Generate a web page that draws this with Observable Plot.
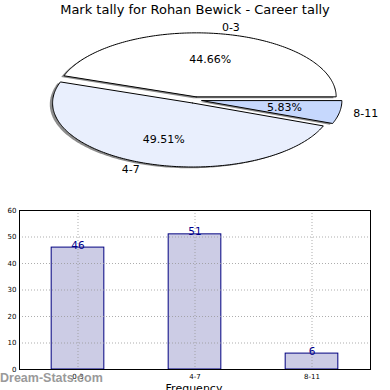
<!DOCTYPE html>
<html>
<head>
<meta charset="utf-8">
<script src="https://cdn.jsdelivr.net/npm/d3@7"></script>
<script src="https://cdn.jsdelivr.net/npm/@observablehq/plot@0.6"></script>
<style>
  html, body { margin: 0; padding: 0; background: #fff; overflow: hidden; }
  #wrap { position: relative; width: 390px; height: 390px; overflow: hidden; font-family: "DejaVu Sans", sans-serif; }
  #wrap svg { position: absolute; left: 0; }
  .txt { position: absolute; white-space: nowrap; }
</style>
</head>
<body>
<div id="wrap"></div>
<script>
// ---- data ----
const title = "Mark tally for Rohan Bewick - Career tally";
const categories = ["0-3", "4-7", "8-11"];
const counts = [46, 51, 6];
const explode = [0.05, 0.05, 0.05];
const yTicks = [0, 10, 20, 30, 40, 50, 60];
const xLabel = "Frequency";
const watermark = "Dream-Stats.com";

// ---- styles ----
const pieColors = ["#ffffff", "#e9effd", "#c6d8fd"];
const barFill = "#ccccE5";
const barStroke = "#000080";
const valueColor = "#00008b";
const font = "DejaVu Sans";

const wrap = document.getElementById("wrap");

// ---- pie geometry (derived from data) ----
const total = d3.sum(counts);
let acc = 0;
const slices = categories.map((cat, i) => {
  const a0 = acc / total * 360;
  acc += counts[i];
  const a1 = acc / total * 360;
  const mid = (a0 + a1) / 2 * Math.PI / 180;
  return {
    cat, i, a0, a1, mid,
    ox: explode[i] * Math.cos(mid),
    oy: explode[i] * Math.sin(mid),
    pct: counts[i] / total * 100
  };
});
function slicePoly(s, dx = 0, dy = 0) {
  const cx = s.ox + dx, cy = s.oy + dy;
  const pts = [{x: cx, y: cy}];
  const n = Math.max(4, Math.ceil(s.a1 - s.a0));
  for (let k = 0; k <= n; k++) {
    const a = (s.a0 + (s.a1 - s.a0) * k / n) * Math.PI / 180;
    pts.push({x: cx + Math.cos(a), y: cy + Math.sin(a)});
  }
  pts.push({x: cx, y: cy});
  return pts;
}

const pcx = 194.5, pcy = 99.5, prx = 140, pry = 64;
const pie = Plot.plot({
  width: 390, height: 190,
  style: {background: "transparent", fontFamily: font},
  x: {domain: [-1, 1], range: [pcx - prx, pcx + prx], axis: null},
  y: {domain: [-1, 1], range: [pcy + pry, pcy - pry], axis: null},
  marks: [
    ...slices.map(s => Plot.line(slicePoly(s, -0.02, -0.02), {x: "x", y: "y", fill: "#000", fillOpacity: 0.45, stroke: "none"})),
    ...slices.map(s => Plot.line(slicePoly(s), {x: "x", y: "y", fill: pieColors[s.i], stroke: "#000", strokeWidth: 1, strokeLinejoin: "miter"})),
    Plot.text(slices, {
      x: s => s.ox + 0.6 * Math.cos(s.mid), y: s => s.oy + 0.6 * Math.sin(s.mid),
      text: s => s.pct.toFixed(2) + "%", fontSize: 11, fill: "#000"
    }),
    Plot.text(slices.filter(s => Math.cos(s.mid) >= 0), {
      x: s => s.ox + 1.1 * Math.cos(s.mid), y: s => s.oy + 1.1 * Math.sin(s.mid),
      text: "cat", textAnchor: "start", fontSize: 11, fill: "#000"
    }),
    Plot.text(slices.filter(s => Math.cos(s.mid) < 0), {
      x: s => s.ox + 1.1 * Math.cos(s.mid), y: s => s.oy + 1.1 * Math.sin(s.mid),
      text: "cat", textAnchor: "end", fontSize: 11, fill: "#000"
    })
  ]
});
pie.style.top = "0px";
wrap.appendChild(pie);

// ---- bar chart ----
const bars = categories.map((cat, i) => ({cat, i, count: counts[i]}));
const bar = Plot.plot({
  width: 390, height: 190,
  marginTop: 10, marginBottom: 21, marginLeft: 19, marginRight: 20,
  style: {background: "transparent", fontFamily: font},
  x: {domain: [-0.5, 2.5]},
  y: {domain: [0, 60]},
  marks: [
    Plot.rectY(bars, {x1: d => d.i - 0.225, x2: d => d.i + 0.225, y: "count", fill: barFill, stroke: barStroke, strokeWidth: 1}),
    Plot.gridY(yTicks, {stroke: "#999", strokeOpacity: 0.8, strokeDasharray: "1,2"}),
    Plot.gridX(bars.map(d => d.i), {stroke: "#999", strokeOpacity: 0.8, strokeDasharray: "1,2"}),
    Plot.frame({stroke: "#000", strokeWidth: 1}),
    Plot.axisY({ticks: yTicks, tickSize: 0, tickPadding: 3, fontSize: 7, label: null, fill: "#000"}),
    Plot.axisX({ticks: bars.map(d => d.i), tickFormat: i => categories[i], tickSize: 0, tickPadding: 5, fontSize: 7, label: null, fill: "#000"}),
    Plot.text(bars, {x: "i", y: "count", text: d => String(d.count), lineAnchor: "bottom", dy: 1, fontSize: 10.5, fill: valueColor})
  ]
});
bar.style.top = "200px";
wrap.appendChild(bar);

// ---- texts ----
function addText(str, css) {
  const d = document.createElement("div");
  d.className = "txt";
  d.textContent = str;
  Object.assign(d.style, css);
  wrap.appendChild(d);
}
addText(title, {left: "0px", width: "390px", textAlign: "center", top: "2px", fontSize: "13px", color: "#000"});
addText(xLabel, {left: "0px", width: "388px", textAlign: "center", top: "382px", fontSize: "11px", color: "#000"});
addText(watermark, {left: "0px", top: "371px", fontSize: "12.5px", fontWeight: "bold", color: "#9a9a9a", fontFamily: "Liberation Sans, sans-serif"});
</script>
</body>
</html>
